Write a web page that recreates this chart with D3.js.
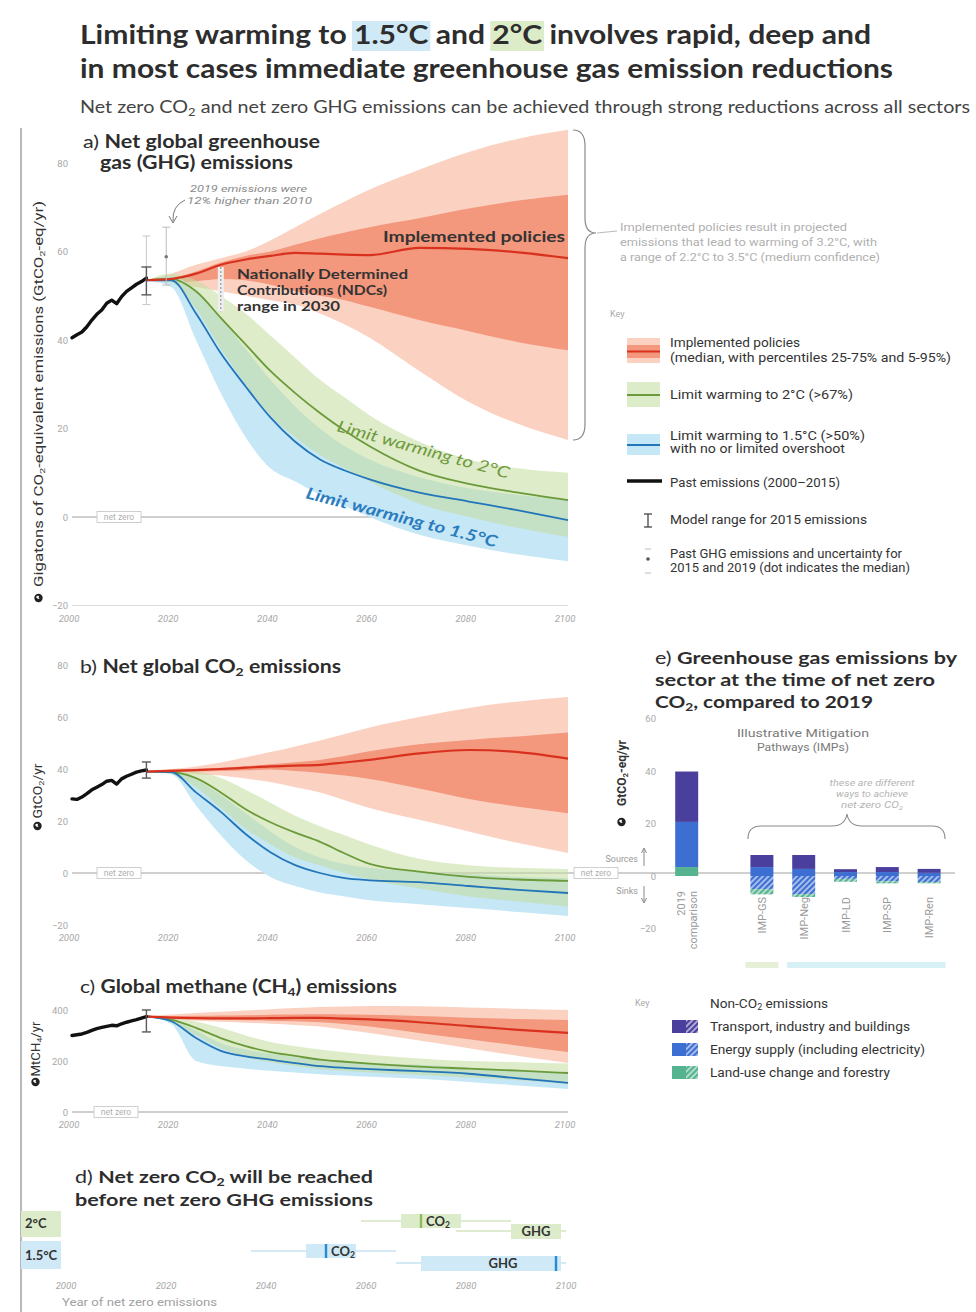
<!DOCTYPE html>
<html>
<head>
<meta charset="utf-8">
<script src="https://cdn.jsdelivr.net/npm/d3@7"></script>
<style>
  body { margin: 0; background: #fff; }
  svg { display: block; }
</style>
</head>
<body>
<svg id="fig" width="976" height="1312"></svg>
<script>
// ---------------------------------------------------------------------------
// Emission pathways data
// ---------------------------------------------------------------------------
const pastYears = [2000,2001,2002,2003,2004,2005,2006,2007,2008,2009,2010,2011,2012,2013,2014,2015];
const projYears = [2015,2020,2025,2030,2035,2040,2045,2050,2055,2060,2070,2080,2090,2100];
const xTickYears = [2000, 2020, 2040, 2060, 2080, 2100];

// a) Net global GHG emissions, GtCO2-eq/yr
const ghgPast     = [40.5,41.2,41.8,43.0,44.5,45.8,46.8,48.3,49.0,48.2,49.8,51.0,51.8,52.6,53.2,54.0];
const ghgPolP5    = [53.5,52.5,52.0,51.0,50.0,49.0,48.0,46.0,43.5,40.5,33.0,26.0,21.0,17.4];
const ghgPolP25   = [53.5,53.0,53.3,53.8,53.5,52.5,51.0,50.0,49.0,47.5,44.5,42.0,39.5,37.7];
const ghgPolMed   = [53.5,53.8,55.0,57.0,58.2,59.0,59.7,59.5,59.3,59.2,60.8,60.6,59.8,58.5];
const ghgPolP75   = [53.5,54.0,55.5,57.5,59.0,60.0,61.5,63.0,64.3,65.5,67.5,69.7,71.5,72.8];
const ghgPolP95   = [53.5,55.0,57.0,58.5,60.0,62.5,65.5,68.5,71.3,74.0,78.5,82.5,85.5,87.5];
const ghg2cLo     = [53.5,53.0,47.0,38.0,30.0,23.0,18.0,14.0,11.0, 8.0, 3.0, 0.0,-2.5,-4.5];
const ghg2cMed    = [53.5,53.8,51.0,45.0,39.0,33.0,28.0,23.5,19.5,16.0,10.5, 7.5, 5.5, 3.8];
const ghg2cHi     = [53.5,55.0,53.5,50.0,46.0,41.0,36.0,31.0,27.0,23.0,17.0,13.0,11.0,10.0];
const ghg15Lo     = [53.5,52.0,40.0,28.0,18.0,11.0, 8.0, 5.0, 2.5, 0.0,-4.0,-6.5,-8.5,-10.0];
const ghg15Med    = [53.5,53.5,46.0,37.0,29.5,22.5,17.0,13.0,10.5, 8.5, 5.5, 3.5, 1.5,-0.7];
const ghg15Hi     = [53.5,54.5,51.0,45.0,38.0,31.0,25.0,20.0,16.0,13.0, 9.0, 6.5, 5.0, 4.0];
const ghgModel2015 = [50.2, 56.5];
const ghgUncert2015 = [48.0, 63.5];
const ghgUncert2019 = [52.4, 65.5];
const ghgMedian2019 = 58.8;
const ndcRange2030 = [46.5, 56.5];

// b) Net global CO2 emissions, GtCO2/yr
const co2Past     = [28.5,28.3,29.2,30.5,32.0,33.0,34.0,35.3,35.6,34.2,36.2,37.2,38.0,38.8,39.3,39.6];
const co2PolP5    = [39.0,38.5,38.0,37.5,36.3,35.0,33.0,31.0,28.0,25.0,20.5,16.0,11.5, 7.7];
const co2PolP25   = [39.0,38.8,39.0,39.2,39.5,39.8,39.2,38.5,37.5,36.2,32.5,28.5,25.5,23.0];
const co2PolMed   = [39.0,39.3,39.6,40.0,40.5,41.0,41.3,41.6,42.5,43.5,46.0,47.3,46.5,44.0];
const co2PolP75   = [39.0,39.8,40.1,40.5,41.1,41.8,42.6,43.5,45.0,46.8,49.5,51.2,52.5,54.0];
const co2PolP95   = [39.0,40.0,41.0,42.5,44.5,46.5,48.7,51.0,53.5,56.0,60.0,63.5,66.0,67.7];
const co22cLo     = [39.0,38.0,33.0,25.0,17.0,11.0, 6.0, 3.0, 0.0,-2.5,-6.0,-9.0,-11.0,-13.0];
const co22cMed    = [39.0,38.8,36.5,31.0,24.5,19.5,15.5,12.0, 7.5, 3.5, 0.5,-1.5,-2.5,-3.0];
const co22cHi     = [39.0,39.5,39.0,36.5,32.0,27.0,22.0,18.0,14.5,11.0, 5.5, 3.0, 2.0, 1.5];
const co215Lo     = [39.0,38.0,26.0,14.5, 5.0,-1.5,-5.0,-7.5,-9.0,-10.5,-12.0,-13.5,-15.0,-16.5];
const co215Med    = [39.0,38.8,31.0,23.5,15.0, 8.0, 3.0, 0.0,-2.0,-2.8,-3.5,-5.0,-6.5,-7.7];
const co215Hi     = [39.0,39.0,36.0,30.0,23.0,16.0,10.0, 6.0, 3.5, 2.0, 0.5,-0.5,-1.5,-2.0];
const co2Model2015 = [36.5, 42.7];

// c) Global methane emissions, MtCH4/yr
const ch4Past     = [300,303,306,312,320,327,332,336,340,338,346,352,357,362,368,374];
const ch4PolP5    = [375,362,358,354,350,346,341,335,323,310,280,250,220,192];
const ch4PolP25   = [375,366,364,362,360,358,356,352,345,335,310,285,260,235];
const ch4PolMed   = [375,370,368,367,367,368,369,369,366,363,352,337,322,310];
const ch4PolP75   = [375,376,377,378,379,381,382,383,382,381,376,370,365,361];
const ch4PolP95   = [375,382,388,393,398,403,408,412,414,416,415,410,405,400];
const ch42cLo     = [375,352,300,250,215,195,180,168,161,155,145,135,125,110];
const ch42cMed    = [375,362,330,290,258,235,220,205,197,190,178,170,162,153];
const ch42cHi     = [375,368,355,330,300,275,258,245,234,225,210,200,195,190];
const ch415Lo     = [375,345,200,180,170,162,155,148,143,138,130,118,104, 90];
const ch415Med    = [375,356,290,240,218,205,192,180,173,168,160,150,132,114];
const ch415Hi     = [375,364,320,270,245,228,215,205,198,192,185,175,165,150];
const ch4Model2015 = [314, 400];

// d) Year of net zero
const nzRows          = ["2°C", "1.5°C"];
const nzCO2Whisker    = [[2059, 2089], [2037, 2066]];
const nzCO2Box        = [[2067, 2079], [2048, 2058]];
const nzCO2Median     = [2071, 2052];
const nzGHGWhisker    = [[2078, 2100], [2066, 2100]];
const nzGHGBox        = [[2089, 2099], [2071, 2099]];
const nzGHGMedian     = [null, 2098];
const nzTickYears     = [2000, 2020, 2040, 2060, 2080, 2100];

// e) Sector emissions at net zero CO2, GtCO2-eq/yr
const barCats       = ["2019 comparison", "IMP-GS", "IMP-Neg", "IMP-LD", "IMP-SP", "IMP-Ren"];
const landSources   = [3.4, 0, 0, 0, 0, 0];
const energySources = [17.2, 3.4, 2.7, 1.5, 1.5, 1.2];
const tibSources    = [19.2, 4.6, 5.3, 1.1, 1.9, 1.5];
const energySinks   = [0, -5.0, -6.9, -1.1, -2.0, -2.3];
const landSinks     = [0, -2.0, -1.1, -1.1, -0.8, -0.5];
const eTicks        = [60, 40, 20, 0, -20];

// ---------------------------------------------------------------------------
// Styling
// ---------------------------------------------------------------------------
const TITLE_FONT = "Lato, 'Open Sans', 'Noto Sans', sans-serif";
const BODY_FONT  = "'Liberation Sans Narrow', Roboto, 'Noto Sans', sans-serif";
const C = {
  redLight: "#fbd2c2", redDark: "#f3977d", redLine: "#d8321f",
  greenBand: "#c2dc9c", greenLine: "#6b9a3a",
  blueBand: "#c6e7f6", blueLine: "#2275b8",
  tick: "#a8a8a8", grid: "#a0a0a0",
  tib: "#4b3f9e", energy: "#3d6fd3", land: "#55b38f"
};

const svg = d3.select("#fig");
svg.append("rect").attr("width", 976).attr("height", 1312).attr("fill", "#fff");
const defs = svg.append("defs");

// Text helper: "_2" gives a subscript digit, "{...}" a regular-weight run.
function label(parent, x, y, str, o = {}) {
  const size = o.size || 12;
  const t = parent.append("text")
    .attr("x", x).attr("y", y)
    .attr("font-family", o.family || BODY_FONT)
    .attr("font-size", size)
    .attr("font-weight", o.weight || 400)
    .attr("fill", o.fill || "#333")
    .attr("text-anchor", o.anchor || "start");
  if (o.italic) t.attr("font-style", "italic");
  if (o.transform) t.attr("transform", o.transform);
  const tokens = str.split(/(_\d|\{[^}]*\})/).filter(s => s.length);
  let shifted = false;
  const sub = size * 0.18;
  tokens.forEach(tok => {
    if (/^_\d$/.test(tok)) {
      t.append("tspan").attr("font-size", size * 0.66).attr("dy", sub).text(tok[1]);
      shifted = true;
    } else {
      const plain = tok.startsWith("{");
      const sp = t.append("tspan").text(plain ? tok.slice(1, -1) : tok);
      if (plain) sp.attr("font-weight", 400);
      if (shifted) { sp.attr("dy", -sub); shifted = false; }
    }
  });
  if (o.w) t.attr("textLength", o.w).attr("lengthAdjust", "spacingAndGlyphs");
  return t;
}

function globeIcon(cx, cy) {
  svg.append("circle").attr("cx", cx).attr("cy", cy).attr("r", 4.2).attr("fill", "#222");
  svg.append("path").attr("d", `M${cx - 2.5},${cy - 1} q1.5,-2 3,-1 q-1,1.5 0.5,3 q-2,0.5 -3.5,-2z`).attr("fill", "#fff");
}

function netZeroTag(x, y) {
  svg.append("rect").attr("x", x).attr("y", y - 5.5).attr("width", 44).attr("height", 11)
    .attr("fill", "#fff").attr("stroke", "#c4c4c4").attr("stroke-width", 0.8);
  label(svg, x + 22, y + 3, "net zero", { size: 8.5, fill: "#b0b0b0", anchor: "middle" });
}

function iBar(x, yTop, yBot, color, cap, width) {
  const g = svg.append("g").attr("stroke", color).attr("stroke-width", width || 1.3);
  g.append("line").attr("x1", x).attr("x2", x).attr("y1", yTop).attr("y2", yBot);
  g.append("line").attr("x1", x - cap / 2).attr("x2", x + cap / 2).attr("y1", yTop).attr("y2", yTop);
  g.append("line").attr("x1", x - cap / 2).attr("x2", x + cap / 2).attr("y1", yBot).attr("y2", yBot);
}

// Scenario panel: policy percentile bands, 2°C and 1.5°C ranges, medians, history
function scenarioPanel(xs, ys, s) {
  const g = svg.append("g");
  const band = (lo, hi) => d3.area()
    .x((d, i) => xs(projYears[i])).y0((d, i) => ys(lo[i])).y1((d, i) => ys(hi[i]))
    .curve(d3.curveMonotoneX)(projYears);
  const line = vals => d3.line()
    .x((d, i) => xs(projYears[i])).y((d, i) => ys(vals[i]))
    .curve(d3.curveMonotoneX)(projYears);

  g.append("path").attr("d", band(s.p5, s.p95)).attr("fill", C.redLight);
  g.append("path").attr("d", band(s.p25, s.p75)).attr("fill", C.redDark);
  g.append("path").attr("d", band(s.b15lo, s.b15hi)).attr("fill", C.blueBand);
  g.append("path").attr("d", band(s.b2lo, s.b2hi)).attr("fill", C.greenBand).attr("fill-opacity", 0.55);
  g.append("path").attr("d", line(s.med2)).attr("fill", "none").attr("stroke", C.greenLine).attr("stroke-width", 1.8);
  g.append("path").attr("d", line(s.med15)).attr("fill", "none").attr("stroke", C.blueLine).attr("stroke-width", 1.8);
  g.append("path").attr("d", line(s.med)).attr("fill", "none").attr("stroke", C.redLine).attr("stroke-width", 2.2);
  g.append("path")
    .attr("d", d3.line().x((d, i) => xs(pastYears[i])).y(d => ys(d))(s.past))
    .attr("fill", "none").attr("stroke", "#111").attr("stroke-width", 3.4)
    .attr("stroke-linejoin", "round").attr("stroke-linecap", "round");
  return g;
}

function xTickLabels(xs, yPos, years) {
  years.forEach(yr => label(svg, xs(yr) - 3, yPos, String(yr), { size: 9.5, fill: C.tick, anchor: "middle", italic: true }));
}
function yTickLabels(ys, vals, xPos) {
  vals.forEach(v => label(svg, xPos, ys(v) + 3.5, v < 0 ? "\u2212" + Math.abs(v) : String(v),
    { size: 9.5, fill: C.tick, anchor: "end" }));
}

// ---------------------------------------------------------------------------
// Headline
// ---------------------------------------------------------------------------
function headline(x, y, str, width, marks) {
  const t = label(svg, x, y, str, { family: TITLE_FONT, size: 26, weight: 700, fill: "#2d2d2d" });
  const natural = t.node().getComputedTextLength();
  const k = width / natural;
  marks.forEach(m => {
    const i = str.indexOf(m.text);
    const x0 = x + k * (i > 0 ? t.node().getSubStringLength(0, i) : 0);
    const w = k * t.node().getSubStringLength(i, m.text.length);
    svg.insert("rect", () => t.node())
      .attr("x", x0 - 2).attr("y", y - 23).attr("width", w + 4).attr("height", 30)
      .attr("fill", m.fill);
  });
  t.attr("textLength", width).attr("lengthAdjust", "spacingAndGlyphs");
}
headline(80, 44, "Limiting warming to 1.5°C and 2°C involves rapid, deep and", 791,
  [{ text: "1.5°C", fill: "#cfe9f6" }, { text: "2°C", fill: "#dcebc8" }]);
headline(80, 78, "in most cases immediate greenhouse gas emission reductions", 813, []);
label(svg, 80, 113, "Net zero  CO_2 and net zero GHG emissions can be achieved through strong reductions across all sectors",
  { family: TITLE_FONT, size: 16.5, fill: "#444", w: 890 });

// left frame rule
svg.append("line").attr("x1", 21).attr("x2", 21).attr("y1", 128).attr("y2", 1312)
  .attr("stroke", "#9a9a9a").attr("stroke-width", 1.4);

// ---------------------------------------------------------------------------
// Panel a
// ---------------------------------------------------------------------------
const xa = d3.scaleLinear([2000, 2100], [72, 568]);
const ya = d3.scaleLinear([-20, 80], [605.5, 163]);

label(svg, 83, 148, "{a) }Net global greenhouse", { family: TITLE_FONT, size: 18, weight: 700, fill: "#2d2d2d", w: 237 });
label(svg, 100, 169, "gas (GHG) emissions", { family: TITLE_FONT, size: 18, weight: 700, fill: "#2d2d2d", w: 193 });

svg.append("line").attr("x1", 72).attr("x2", 568).attr("y1", ya(-20)).attr("y2", ya(-20)).attr("stroke", "#dcdcdc");
svg.append("line").attr("x1", 72).attr("x2", 568).attr("y1", ya(0)).attr("y2", ya(0)).attr("stroke", C.grid);
netZeroTag(97, ya(0));
yTickLabels(ya, [80, 60, 40, 20, 0, -20], 68);
xTickLabels(xa, 622, xTickYears);

scenarioPanel(xa, ya, {
  p5: ghgPolP5, p25: ghgPolP25, med: ghgPolMed, p75: ghgPolP75, p95: ghgPolP95,
  b2lo: ghg2cLo, med2: ghg2cMed, b2hi: ghg2cHi, b15lo: ghg15Lo, med15: ghg15Med, b15hi: ghg15Hi,
  past: ghgPast
});

// observed uncertainty and model range markers
iBar(xa(2015), ya(ghgUncert2015[1]), ya(ghgUncert2015[0]), "#c8c8c8", 8, 1);
iBar(xa(2015), ya(ghgModel2015[1]), ya(ghgModel2015[0]), "#5a5a5a", 10, 1.4);
iBar(xa(2019), ya(ghgUncert2019[1]), ya(ghgUncert2019[0]), "#bdbdbd", 8, 1);
svg.append("circle").attr("cx", xa(2019)).attr("cy", ya(ghgMedian2019)).attr("r", 1.8).attr("fill", "#777");

// NDC range in 2030
svg.append("rect").attr("x", xa(2030) - 3).attr("width", 6)
  .attr("y", ya(ndcRange2030[1])).attr("height", ya(ndcRange2030[0]) - ya(ndcRange2030[1]))
  .attr("fill", "#eeeeee");
svg.append("line").attr("x1", xa(2030)).attr("x2", xa(2030))
  .attr("y1", ya(ndcRange2030[1])).attr("y2", ya(ndcRange2030[0]))
  .attr("stroke", "#9a9a9a").attr("stroke-width", 1.2).attr("stroke-dasharray", "2,2");

// annotations
label(svg, 190, 192, "2019 emissions were", { size: 9, fill: "#8a8a8a", italic: true, w: 117 });
label(svg, 187, 204, "12% higher than 2010", { size: 9, fill: "#8a8a8a", italic: true, w: 125 });
svg.append("path").attr("d", "M185,200 Q172,206 173,221").attr("fill", "none").attr("stroke", "#777").attr("stroke-width", 1);
svg.append("path").attr("d", "M169,216 L173,223 L177,216").attr("fill", "none").attr("stroke", "#777").attr("stroke-width", 1);

label(svg, 383, 242, "Implemented policies", { family: TITLE_FONT, size: 15.5, weight: 700, fill: "#333", w: 182 });
label(svg, 237, 279, "Nationally Determined", { family: TITLE_FONT, size: 14, weight: 700, fill: "#333", w: 171 });
label(svg, 237, 295, "Contributions (NDCs)", { family: TITLE_FONT, size: 14, weight: 700, fill: "#333", w: 150 });
label(svg, 237, 311, "range in 2030", { family: TITLE_FONT, size: 14, weight: 700, fill: "#333", w: 103 });

label(svg, 0, 0, "Limit warming to 2°C", { family: TITLE_FONT, size: 16, italic: true, fill: "#6f9a3e", w: 178,
  transform: "translate(336,431) rotate(15.5)" });
label(svg, 0, 0, "Limit warming to 1.5°C", { family: TITLE_FONT, size: 16, weight: 700, italic: true, fill: "#2b7bbf", w: 197,
  transform: "translate(305,498) rotate(14.5)" });

// y-axis title a
label(svg, 0, 0, "Gigatons of CO_2-equivalent emissions (GtCO_2-eq/yr)", { size: 12, fill: "#333", anchor: "middle", w: 386,
  transform: "translate(43,394) rotate(-90)" });
globeIcon(38.5, 598);

// brace and note for implemented policies
svg.append("path")
  .attr("d", "M573,130 Q585,130 585,146 L585,218 Q585,233 596,233 Q585,233 585,248 L585,424 Q585,440 573,440")
  .attr("fill", "none").attr("stroke", "#8a8a8a").attr("stroke-width", 1.2);
svg.append("line").attr("x1", 597).attr("x2", 617).attr("y1", 233).attr("y2", 231).attr("stroke", "#bbb");
label(svg, 620, 231, "Implemented policies result in projected", { size: 10, fill: "#b0b0b0", w: 227 });
label(svg, 620, 246, "emissions that lead to warming of 3.2°C, with", { size: 10, fill: "#b0b0b0", w: 257 });
label(svg, 620, 261, "a range of 2.2°C to 3.5°C (medium confidence)", { size: 10, fill: "#b0b0b0", w: 260 });

// key for panels a–c
label(svg, 610, 317, "Key", { size: 9, fill: "#aaa" });
svg.append("rect").attr("x", 627).attr("y", 338).attr("width", 33).attr("height", 25).attr("fill", C.redLight);
svg.append("rect").attr("x", 627).attr("y", 345).attr("width", 33).attr("height", 13).attr("fill", C.redDark);
svg.append("line").attr("x1", 627).attr("x2", 660).attr("y1", 351.5).attr("y2", 351.5).attr("stroke", C.redLine).attr("stroke-width", 2);
label(svg, 670, 347, "Implemented policies", { size: 12.5, fill: "#333", w: 130 });
label(svg, 670, 362, "(median, with percentiles 25-75% and 5-95%)", { size: 12.5, fill: "#333", w: 281 });

svg.append("rect").attr("x", 627).attr("y", 382).attr("width", 33).attr("height", 25).attr("fill", "#dcebc8");
svg.append("line").attr("x1", 627).attr("x2", 660).attr("y1", 395).attr("y2", 395).attr("stroke", C.greenLine).attr("stroke-width", 1.8);
label(svg, 670, 399, "Limit warming to 2°C (>67%)", { size: 12.5, fill: "#333", w: 183 });

svg.append("rect").attr("x", 627).attr("y", 434).attr("width", 33).attr("height", 21).attr("fill", C.blueBand);
svg.append("line").attr("x1", 627).attr("x2", 660).attr("y1", 445).attr("y2", 445).attr("stroke", C.blueLine).attr("stroke-width", 1.8);
label(svg, 670, 440, "Limit warming to 1.5°C (>50%)", { size: 12.5, fill: "#333", w: 195 });
label(svg, 670, 453, "with no or limited overshoot", { size: 12.5, fill: "#333", w: 175 });

svg.append("line").attr("x1", 627).attr("x2", 662).attr("y1", 481).attr("y2", 481).attr("stroke", "#111").attr("stroke-width", 3.4);
label(svg, 670, 487, "Past emissions (2000–2015)", { size: 12.5, fill: "#333", w: 170 });

iBar(648, 514, 527, "#444", 8, 1.3);
label(svg, 670, 524, "Model range for 2015 emissions", { size: 12.5, fill: "#333", w: 197 });

svg.append("line").attr("x1", 645).attr("x2", 651).attr("y1", 549).attr("y2", 549).attr("stroke", "#bbb");
svg.append("line").attr("x1", 645).attr("x2", 651).attr("y1", 573).attr("y2", 573).attr("stroke", "#bbb");
svg.append("circle").attr("cx", 648).attr("cy", 559).attr("r", 1.8).attr("fill", "#555");
label(svg, 670, 558, "Past GHG emissions and uncertainty for", { size: 12.5, fill: "#333", w: 232 });
label(svg, 670, 572, "2015 and 2019 (dot indicates the median)", { size: 12.5, fill: "#333", w: 240 });

// ---------------------------------------------------------------------------
// Panel b
// ---------------------------------------------------------------------------
const xb = d3.scaleLinear([2000, 2100], [72, 568]);
const yb = d3.scaleLinear([-20, 80], [925, 665]);

label(svg, 80, 673, "{b) }Net global CO_2 emissions", { family: TITLE_FONT, size: 18, weight: 700, fill: "#2d2d2d", w: 261 });
svg.append("line").attr("x1", 72).attr("x2", 955).attr("y1", yb(0)).attr("y2", yb(0)).attr("stroke", C.grid);
netZeroTag(97, yb(0));
netZeroTag(574, yb(0));
yTickLabels(yb, [80, 60, 40, 20, 0, -20], 68);
xTickLabels(xb, 941, xTickYears);

scenarioPanel(xb, yb, {
  p5: co2PolP5, p25: co2PolP25, med: co2PolMed, p75: co2PolP75, p95: co2PolP95,
  b2lo: co22cLo, med2: co22cMed, b2hi: co22cHi, b15lo: co215Lo, med15: co215Med, b15hi: co215Hi,
  past: co2Past
});
iBar(xb(2015), yb(co2Model2015[1]), yb(co2Model2015[0]), "#5a5a5a", 9, 1.4);

label(svg, 0, 0, "GtCO_2/yr", { size: 12, fill: "#333", anchor: "middle", w: 55, transform: "translate(42,791) rotate(-90)" });
globeIcon(37.5, 826);

// ---------------------------------------------------------------------------
// Panel c
// ---------------------------------------------------------------------------
const xc = d3.scaleLinear([2000, 2100], [72, 568]);
const yc = d3.scaleLinear([0, 400], [1112, 1010]);

label(svg, 80, 993, "{c) }Global methane (CH_4) emissions", { family: TITLE_FONT, size: 18, weight: 700, fill: "#2d2d2d", w: 317 });
svg.append("line").attr("x1", 72).attr("x2", 568).attr("y1", yc(0)).attr("y2", yc(0)).attr("stroke", C.grid);
netZeroTag(94, yc(0));
yTickLabels(yc, [400, 200, 0], 68);
xTickLabels(xc, 1128, xTickYears);

scenarioPanel(xc, yc, {
  p5: ch4PolP5, p25: ch4PolP25, med: ch4PolMed, p75: ch4PolP75, p95: ch4PolP95,
  b2lo: ch42cLo, med2: ch42cMed, b2hi: ch42cHi, b15lo: ch415Lo, med15: ch415Med, b15hi: ch415Hi,
  past: ch4Past
});
iBar(xc(2015), yc(ch4Model2015[1]), yc(ch4Model2015[0]), "#5a5a5a", 9, 1.4);

label(svg, 0, 0, "MtCH_4/yr", { size: 12, fill: "#333", anchor: "middle", w: 55, transform: "translate(40,1049) rotate(-90)" });
globeIcon(35.5, 1082);

// ---------------------------------------------------------------------------
// Panel d — year of net zero
// ---------------------------------------------------------------------------
const xd = d3.scaleLinear([2000, 2100], [66, 566]);
label(svg, 75, 1183, "{d) }Net zero  CO_2 will be reached", { family: TITLE_FONT, size: 17, weight: 700, fill: "#2d2d2d", w: 298 });
label(svg, 75, 1206, "before  net zero  GHG emissions", { family: TITLE_FONT, size: 17, weight: 700, fill: "#2d2d2d", w: 298 });

const dRowY = [{ co2: 1221, ghg: 1231, lab: 1224, bg: [1211, 1237] }, { co2: 1251, ghg: 1263, lab: 1256, bg: [1241, 1269] }];
const dBox = ["#dcebc9", "#cfe9f6"];
const dWhisk = ["#d3e4c0", "#c4e3f2"];
const dMark = ["#8cbc5c", "#2a8ad0"];
nzRows.forEach((row, i) => {
  const r = dRowY[i];
  svg.append("rect").attr("x", 21).attr("y", r.bg[0]).attr("width", 40).attr("height", r.bg[1] - r.bg[0]).attr("fill", dBox[i]);
  label(svg, 25, r.lab + 4, row, { family: TITLE_FONT, size: 13, weight: 700, fill: "#333" });

  // CO2 net zero
  svg.append("line").attr("x1", xd(nzCO2Whisker[i][0])).attr("x2", xd(nzCO2Whisker[i][1]))
    .attr("y1", r.co2).attr("y2", r.co2).attr("stroke", dWhisk[i]).attr("stroke-width", 1.3);
  svg.append("rect").attr("x", xd(nzCO2Box[i][0])).attr("width", xd(nzCO2Box[i][1]) - xd(nzCO2Box[i][0]))
    .attr("y", r.co2 - 7).attr("height", 14).attr("fill", dBox[i]);
  svg.append("rect").attr("x", xd(nzCO2Median[i]) - 1.2).attr("width", 2.4).attr("y", r.co2 - 7).attr("height", 14).attr("fill", dMark[i]);
  label(svg, xd(nzCO2Median[i]) + 5, r.co2 + 5, "CO_2", { family: TITLE_FONT, size: 13, weight: 700, fill: "#333" });

  // GHG net zero
  svg.append("line").attr("x1", xd(nzGHGWhisker[i][0])).attr("x2", xd(nzGHGWhisker[i][1]))
    .attr("y1", r.ghg).attr("y2", r.ghg).attr("stroke", dWhisk[i]).attr("stroke-width", 1.3);
  svg.append("rect").attr("x", xd(nzGHGBox[i][0])).attr("width", xd(nzGHGBox[i][1]) - xd(nzGHGBox[i][0]))
    .attr("y", r.ghg - 7).attr("height", 15).attr("fill", dBox[i]);
  if (nzGHGMedian[i] !== null) {
    svg.append("rect").attr("x", xd(nzGHGMedian[i]) - 1.2).attr("width", 2.4).attr("y", r.ghg - 7).attr("height", 15).attr("fill", dMark[i]);
  }
  const gx = (xd(nzGHGBox[i][0]) + xd(nzGHGBox[i][1])) / 2 + (i === 1 ? 12 : 0);
  label(svg, gx, r.ghg + 5, "GHG", { family: TITLE_FONT, size: 13, weight: 700, fill: "#333", anchor: "middle" });
});
nzTickYears.forEach(yr => label(svg, xd(yr), 1289, String(yr), { size: 9.5, fill: C.tick, anchor: "middle", italic: true }));
label(svg, 62, 1306, "Year of net zero emissions", { size: 10, fill: "#a0a0a0", w: 155 });

// ---------------------------------------------------------------------------
// Panel e — sector emissions at net zero CO2
// ---------------------------------------------------------------------------
const ye = d3.scaleLinear([-20, 60], [928.5, 718.5]);
const xe2019 = d3.scaleBand().domain(barCats.slice(0, 1)).range([666, 712]).padding(0.25);
const xeImp = d3.scaleBand().domain(barCats.slice(1)).range([741, 950]).paddingInner(0.45).paddingOuter(0.225);
const xe = c => (c === barCats[0] ? xe2019(c) : xeImp(c));
const bw = xeImp.bandwidth();

label(svg, 655, 664, "{e) }Greenhouse gas emissions by", { family: TITLE_FONT, size: 17.5, weight: 700, fill: "#2d2d2d", w: 302 });
label(svg, 655, 686, "sector at the time of net zero", { family: TITLE_FONT, size: 17.5, weight: 700, fill: "#2d2d2d", w: 280 });
label(svg, 655, 708, "CO_2, compared to 2019", { family: TITLE_FONT, size: 17.5, weight: 700, fill: "#2d2d2d", w: 218 });

yTickLabels(ye, eTicks, 656);
label(svg, 0, 0, "GtCO_2-eq/yr", { size: 12, weight: 700, fill: "#333", anchor: "middle", w: 66, transform: "translate(626,773) rotate(-90)" });
globeIcon(621.5, 822);

// sources / sinks hints
label(svg, 638, 862, "Sources", { size: 9, fill: "#9a9a9a", anchor: "end" });
label(svg, 638, 894, "Sinks", { size: 9, fill: "#9a9a9a", anchor: "end" });
svg.append("path").attr("d", "M644,866 L644,849 M641.5,853 L644,848 L646.5,853").attr("fill", "none").attr("stroke", "#888");
svg.append("path").attr("d", "M644,886 L644,902 M641.5,898 L644,903 L646.5,898").attr("fill", "none").attr("stroke", "#888");

// hatched fills for the sink components
function hatch(id, color) {
  const p = defs.append("pattern").attr("id", id).attr("width", 4).attr("height", 4)
    .attr("patternUnits", "userSpaceOnUse").attr("patternTransform", "rotate(45)");
  p.append("rect").attr("width", 4).attr("height", 4).attr("fill", d3.interpolateRgb(color, "#fff")(0.6));
  p.append("rect").attr("width", 2.2).attr("height", 4).attr("fill", color);
}
hatch("hatchTib", C.tib);
hatch("hatchEnergy", C.energy);
hatch("hatchLand", C.land);

const posLayers = [{ v: landSources, fill: C.land }, { v: energySources, fill: C.energy }, { v: tibSources, fill: C.tib }];
const negLayers = [{ v: energySinks, fill: "url(#hatchEnergy)" }, { v: landSinks, fill: "url(#hatchLand)" }];
const bars = svg.append("g");
barCats.forEach((cat, i) => {
  let base = 0;
  posLayers.forEach(l => {
    const v = l.v[i];
    if (v <= 0) return;
    bars.append("rect").attr("x", xe(cat)).attr("width", bw)
      .attr("y", ye(base + v)).attr("height", ye(base) - ye(base + v)).attr("fill", l.fill);
    base += v;
  });
  base = 0;
  negLayers.forEach(l => {
    const v = l.v[i];
    if (v >= 0) return;
    bars.append("rect").attr("x", xe(cat)).attr("width", bw)
      .attr("y", ye(base)).attr("height", ye(base + v) - ye(base)).attr("fill", l.fill);
    base += v;
  });
});

// category labels (rotated)
barCats.forEach(cat => {
  const cx = xe(cat) + bw / 2;
  if (cat === barCats[0]) {
    label(svg, 0, 0, "2019", { size: 11, fill: "#9a9a9a", anchor: "end", transform: `translate(${cx - 2},891) rotate(-90)` });
    label(svg, 0, 0, "comparison", { size: 11, fill: "#9a9a9a", anchor: "end", transform: `translate(${cx + 10},891) rotate(-90)` });
  } else {
    label(svg, 0, 0, cat, { size: 11, fill: "#9a9a9a", anchor: "end", transform: `translate(${cx + 4},897) rotate(-90)` });
  }
});
svg.append("rect").attr("x", xeImp("IMP-GS") - 5).attr("width", bw + 10).attr("y", 962).attr("height", 6).attr("fill", "#e6f0d6");
svg.append("rect").attr("x", xeImp("IMP-Neg") - 5).attr("width", xeImp("IMP-Ren") + bw + 5 - xeImp("IMP-Neg") + 5)
  .attr("y", 962).attr("height", 6).attr("fill", "#d6f0f6");

label(svg, 803, 737, "Illustrative Mitigation", { size: 11.5, fill: "#7a7a7a", anchor: "middle", w: 132 });
label(svg, 803, 751, "Pathways (IMPs)", { size: 11.5, fill: "#7a7a7a", anchor: "middle", w: 92 });
label(svg, 872, 786, "these are different", { size: 9, fill: "#b5b5b5", italic: true, anchor: "middle", w: 85 });
label(svg, 872, 797, "ways to achieve", { size: 9, fill: "#b5b5b5", italic: true, anchor: "middle", w: 72 });
label(svg, 872, 808, "net-zero CO_2", { size: 9, fill: "#b5b5b5", italic: true, anchor: "middle", w: 62 });
svg.append("path")
  .attr("d", "M748,839 Q748,826 761,826 L832,826 Q845,826 847,814 Q849,826 862,826 L932,826 Q945,826 945,839")
  .attr("fill", "none").attr("stroke", "#8a8a8a").attr("stroke-width", 1.1);

// key for panel e
label(svg, 635, 1006, "Key", { size: 9, fill: "#aaa" });
label(svg, 710, 1008, "Non-CO_2 emissions", { size: 12.5, fill: "#333", w: 118 });
const sectorKey = [
  { name: "Transport, industry and buildings", solid: C.tib, hatch: "url(#hatchTib)", y: 1020, w: 200 },
  { name: "Energy supply (including electricity)", solid: C.energy, hatch: "url(#hatchEnergy)", y: 1043, w: 215 },
  { name: "Land-use change and forestry", solid: C.land, hatch: "url(#hatchLand)", y: 1066, w: 180 }
];
sectorKey.forEach(k => {
  svg.append("rect").attr("x", 672).attr("y", k.y).attr("width", 14).attr("height", 13).attr("fill", k.solid);
  svg.append("rect").attr("x", 686).attr("y", k.y).attr("width", 12).attr("height", 13).attr("fill", k.hatch);
  label(svg, 710, k.y + 10.5, k.name, { size: 12.5, fill: "#333", w: k.w });
});
</script>
</body>
</html>
